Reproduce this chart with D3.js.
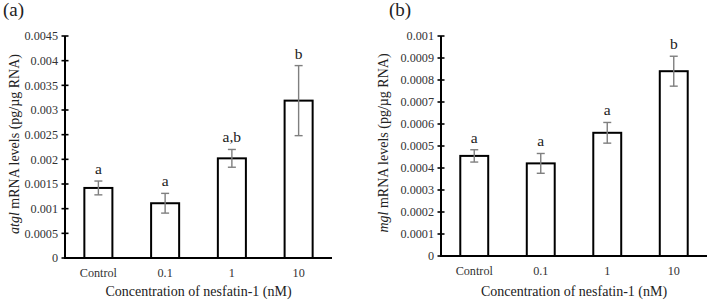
<!DOCTYPE html>
<html><head><meta charset="utf-8">
<script src="https://cdn.jsdelivr.net/npm/d3@7"></script>
<style>
body{margin:0;background:#fff;}
svg{display:block;font-family:"Liberation Serif","Times New Roman",serif;}
</style></head><body>
<svg id="c" width="708" height="300"></svg>
<script>
const categories = ["Control", "0.1", "1", "10"];
const atglValues = [0.00142, 0.00111, 0.00202, 0.00319];
const atglErrors = [0.00014, 0.00020, 0.00018, 0.00071];
const atglLetters = ["a", "a", "a,b", "b"];
const atglTicks = [0, 0.0005, 0.001, 0.0015, 0.002, 0.0025, 0.003, 0.0035, 0.004, 0.0045];
const mglValues = [0.000455, 0.000421, 0.000560, 0.000840];
const mglErrors = [0.000028, 0.000045, 0.000047, 0.000068];
const mglLetters = ["a", "a", "a", "b"];
const mglTicks = [0, 0.0001, 0.0002, 0.0003, 0.0004, 0.0005, 0.0006, 0.0007, 0.0008, 0.0009, 0.001];

const svg = d3.select("#c");
const FONT = "Liberation Serif, Times New Roman, serif";

function panel(o) {
  const g = svg.append("g");
  const y = d3.scaleLinear().domain([0, o.max]).range([o.bottom, o.top]);
  const x = d3.scaleBand().domain(categories).range([o.left, o.right]).paddingInner(0.58).paddingOuter(0.29);

  // panel letter
  g.append("text").attr("x", o.tagX).attr("y", 16).attr("font-size", 19).attr("fill", "#222").text(o.tag);

  // bars
  g.selectAll("rect.bar").data(o.values).enter().append("rect")
    .attr("x", (d, i) => x(categories[i]))
    .attr("width", x.bandwidth())
    .attr("y", d => y(d))
    .attr("height", d => y(0) - y(d))
    .attr("fill", "#fff").attr("stroke", "#000").attr("stroke-width", 2);

  // error bars
  const eg = g.append("g").attr("stroke", "#7f7f7f").attr("stroke-width", 1.4);
  o.values.forEach((v, i) => {
    const cx = x(categories[i]) + x.bandwidth() / 2;
    const e = o.errors[i];
    eg.append("line").attr("x1", cx).attr("x2", cx).attr("y1", y(v + e)).attr("y2", y(v - e));
    eg.append("line").attr("x1", cx - 4).attr("x2", cx + 4).attr("y1", y(v + e)).attr("y2", y(v + e));
    eg.append("line").attr("x1", cx - 4).attr("x2", cx + 4).attr("y1", y(v - e)).attr("y2", y(v - e));
  });

  // letters
  g.selectAll("text.let").data(o.letters).enter().append("text")
    .attr("x", (d, i) => x(categories[i]) + x.bandwidth() / 2)
    .attr("y", (d, i) => y(o.values[i] + o.errors[i]) - 7)
    .attr("text-anchor", "middle").attr("font-size", 15.5).attr("fill", "#222").text(d => d);

  // y axis
  const ya = g.append("g").attr("transform", `translate(${o.left},0)`)
    .call(d3.axisLeft(y).tickValues(o.ticks).tickFormat(d => d3.format("")(+d.toPrecision(6))).tickSize(0).tickPadding(7));
  ya.select(".domain").remove();
  ya.attr("font-family", FONT);
  ya.selectAll("text").attr("font-size", 12.2).attr("fill", "#333");
  g.append("line").attr("x1", o.left).attr("x2", o.left).attr("y1", o.top).attr("y2", o.bottom + 1)
    .attr("stroke", "#000").attr("stroke-width", 2);
  g.selectAll("line.tk").data(o.ticks).enter().append("line")
    .attr("x1", o.left - 3.5).attr("x2", o.left + 3.5)
    .attr("y1", d => y(d)).attr("y2", d => y(d)).attr("stroke", "#000").attr("stroke-width", 1.6);

  // x axis
  g.append("line").attr("x1", o.left).attr("x2", o.right).attr("y1", o.bottom).attr("y2", o.bottom)
    .attr("stroke", "#000").attr("stroke-width", 2);
  const xa = g.append("g").attr("transform", `translate(0,${o.bottom})`)
    .call(d3.axisBottom(x).tickSize(0).tickPadding(10));
  xa.select(".domain").remove();
  xa.attr("font-family", FONT);
  xa.selectAll("text").attr("font-size", 12.2).attr("fill", "#333");

  // x title
  g.append("text").attr("x", (o.left + o.right) / 2).attr("y", 296).attr("text-anchor", "middle")
    .attr("font-size", 14).attr("fill", "#222").text("Concentration of nesfatin-1 (nM)");

  // y title
  const yt = g.append("text").attr("transform", `translate(${o.ylabX},${(o.top + o.bottom) / 2 - 3}) rotate(-90)`)
    .attr("text-anchor", "middle").attr("font-size", 14).attr("fill", "#222");
  yt.append("tspan").attr("font-style", "italic").text(o.gene);
  yt.append("tspan").text(" mRNA levels (pg/µg RNA)");
}

panel({tag: "(a)", tagX: 3, gene: "atgl", values: atglValues, errors: atglErrors, letters: atglLetters,
  ticks: atglTicks, max: 0.0045, left: 65, right: 332, top: 36, bottom: 258, ylabX: 19});
panel({tag: "(b)", tagX: 389, gene: "mgl", values: mglValues, errors: mglErrors, letters: mglLetters,
  ticks: mglTicks, max: 0.001, left: 441, right: 707, top: 36, bottom: 256, ylabX: 388});
</script></body></html>
